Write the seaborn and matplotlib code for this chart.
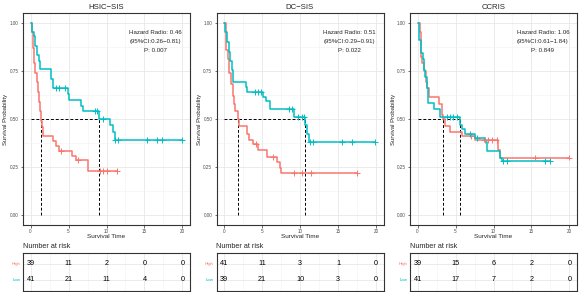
import numpy as np
import pandas as pd
import matplotlib
matplotlib.use("Agg")
import matplotlib.pyplot as plt
from matplotlib.ticker import MultipleLocator
import seaborn as sns

# ---------------- data ----------------
panel_titles = ["HSIC\u2212SIS", "DC\u2212SIS", "CCRIS"]
hr_text = ["Hazard Radio: 0.46", "Hazard Radio: 0.51", "Hazard Radio: 1.06"]
ci_text = ["(95%CI:0.26\u22120.81)", "(95%CI:0.29\u22120.91)", "(95%CI:0.61\u22121.84)"]
p_text = ["P: 0.007", "P: 0.022", "P: 0.849"]

# Kaplan-Meier step curves: (times, survival), last point = end of follow-up
hsic_high_t = [0, 0.15, 0.3, 0.45, 0.6, 0.8, 1.0, 1.1, 1.25, 1.35, 1.5, 1.7, 2.95, 3.4, 3.8, 5.5, 6.0, 7.6, 11.4]
hsic_high_s = [1.0, 0.95, 0.87, 0.79, 0.74, 0.69, 0.64, 0.59, 0.54, 0.49, 0.46, 0.41, 0.385, 0.36, 0.335, 0.31, 0.285, 0.23, 0.23]
hsic_low_t = [0, 0.15, 0.4, 0.6, 0.85, 1.1, 1.3, 2.7, 2.95, 4.9, 5.1, 6.7, 6.9, 9.0, 10.5, 10.8, 11.1, 19.9]
hsic_low_s = [1.0, 0.95, 0.93, 0.88, 0.83, 0.80, 0.76, 0.71, 0.66, 0.63, 0.60, 0.565, 0.54, 0.50, 0.47, 0.43, 0.39, 0.39]
hsic_high_cens = [4.0, 6.2, 9.1, 9.5, 10.1, 11.4]
hsic_low_cens = [3.4, 3.8, 4.5, 8.45, 8.8, 9.55, 11.15, 11.5, 15.4, 16.6, 17.3, 19.9]

dc_high_t = [0, 0.2, 0.3, 0.55, 0.65, 0.95, 1.2, 1.3, 1.5, 1.85, 1.95, 3.0, 3.3, 3.8, 4.5, 5.7, 7.0, 7.4, 7.5, 17.5]
dc_high_s = [1.0, 0.91, 0.86, 0.81, 0.74, 0.68, 0.62, 0.58, 0.54, 0.50, 0.465, 0.42, 0.39, 0.37, 0.34, 0.305, 0.275, 0.245, 0.22, 0.22]
dc_low_t = [0, 0.15, 0.4, 0.65, 0.8, 1.0, 1.2, 2.9, 3.05, 5.1, 5.5, 6.0, 6.1, 9.25, 10.65, 10.95, 11.15, 19.9]
dc_low_s = [1.0, 0.95, 0.90, 0.85, 0.80, 0.755, 0.69, 0.665, 0.64, 0.615, 0.595, 0.57, 0.55, 0.51, 0.47, 0.42, 0.38, 0.38]
dc_high_cens = [4.2, 6.4, 9.2, 10.2, 11.5, 17.5]
dc_low_cens = [4.05, 4.5, 4.9, 8.55, 8.9, 9.7, 10.3, 10.55, 11.3, 11.7, 15.5, 16.9, 19.9]

cc_high_t = [0, 0.3, 0.45, 0.6, 0.9, 1.1, 1.25, 1.45, 2.8, 3.2, 3.4, 3.6, 4.3, 5.9, 7.5, 10.65, 10.85, 20.0]
cc_high_s = [1.0, 0.95, 0.82, 0.79, 0.75, 0.69, 0.66, 0.615, 0.58, 0.52, 0.50, 0.465, 0.43, 0.41, 0.39, 0.34, 0.30, 0.30]
cc_low_t = [0, 0.15, 0.25, 0.5, 0.65, 0.8, 1.0, 1.2, 1.35, 2.1, 3.0, 5.55, 5.8, 6.2, 7.6, 8.9, 9.2, 10.9, 11.1, 17.5]
cc_low_s = [1.0, 0.96, 0.91, 0.84, 0.81, 0.755, 0.72, 0.66, 0.585, 0.55, 0.51, 0.47, 0.45, 0.42, 0.40, 0.38, 0.335, 0.30, 0.28, 0.28]
cc_high_cens = [7.1, 8.9, 9.3, 9.8, 10.4, 15.5, 20.0]
cc_low_cens = [3.85, 4.3, 4.7, 5.2, 6.9, 7.8, 11.3, 11.75, 16.8, 17.5]

risk_times = [0, 5, 10, 15, 20]
hsic_high_risk = [39, 11, 2, 0, 0]
hsic_low_risk = [41, 21, 11, 4, 0]
dc_high_risk = [41, 11, 3, 1, 0]
dc_low_risk = [39, 21, 10, 3, 0]
cc_high_risk = [39, 15, 6, 2, 0]
cc_low_risk = [41, 17, 7, 2, 0]

groups = ["High", "Low"]
palette = {"High": "#F8766D", "Low": "#00BFC4"}

panels = [
    dict(high=(hsic_high_t, hsic_high_s, hsic_high_cens), low=(hsic_low_t, hsic_low_s, hsic_low_cens),
         risk=(hsic_high_risk, hsic_low_risk)),
    dict(high=(dc_high_t, dc_high_s, dc_high_cens), low=(dc_low_t, dc_low_s, dc_low_cens),
         risk=(dc_high_risk, dc_low_risk)),
    dict(high=(cc_high_t, cc_high_s, cc_high_cens), low=(cc_low_t, cc_low_s, cc_low_cens),
         risk=(cc_high_risk, cc_low_risk)),
]

# ---------------- styling ----------------
sns.set_theme(style="white")
plt.rcParams["font.family"] = ["Liberation Sans", "DejaVu Sans"]
W, H = 581, 292
fig = plt.figure(figsize=(W / 100, H / 100), dpi=100)
fig.patch.set_facecolor("white")

edge = "#333333"
lefts = [23, 216.5, 410]
aw = 167


def step_eval(t, s, x):
    t = np.asarray(t)
    s = np.asarray(s)
    idx = np.searchsorted(t, x, side="right") - 1
    return s[idx]


def style_frame(ax):
    for sp in ax.spines.values():
        sp.set_visible(True)
        sp.set_color(edge)
        sp.set_linewidth(0.8)


for i, p in enumerate(panels):
    L = lefts[i]
    ax = fig.add_axes([L / W, 1 - 225 / H, aw / W, 212 / H])
    ax.set_facecolor("white")

    rows = []
    cens_rows = []
    medians = []
    for g, key in zip(groups, ["high", "low"]):
        t, s, c = p[key]
        for tt, ss in zip(t, s):
            rows.append(dict(time=tt, surv=ss, group=g))
        cs = step_eval(t, s, c)
        for tt, ss in zip(c, cs):
            cens_rows.append(dict(time=tt, surv=ss, group=g))
        sarr = np.asarray(s)
        medians.append(np.asarray(t)[np.argmax(sarr <= 0.5)])
    df = pd.DataFrame(rows)
    dfc = pd.DataFrame(cens_rows)

    # grid
    ax.xaxis.set_major_locator(MultipleLocator(5))
    ax.xaxis.set_minor_locator(MultipleLocator(2.5))
    ax.yaxis.set_major_locator(MultipleLocator(0.25))
    ax.yaxis.set_minor_locator(MultipleLocator(0.125))
    ax.grid(True, which="major", color="#E8E8E8", lw=0.6)
    ax.grid(True, which="minor", color="#F2F2F2", lw=0.4)
    ax.set_axisbelow(True)

    # median lines
    ax.plot([0, max(medians)], [0.5, 0.5], ls=(0, (3, 2)), color="black", lw=0.7, zorder=3)
    for m in medians:
        ax.plot([m, m], [0, 0.5], ls=(0, (3, 2)), color="black", lw=0.7, zorder=3)

    sns.lineplot(data=df, x="time", y="surv", hue="group", palette=palette,
                 drawstyle="steps-post", estimator=None, sort=False, legend=False,
                 lw=1.1, ax=ax, zorder=4)
    sns.scatterplot(data=dfc, x="time", y="surv", hue="group", palette=palette,
                    marker="+", s=18, linewidth=0.7, legend=False, ax=ax, zorder=5)

    ax.set_xlim(-1, 21)
    ax.set_ylim(-0.05, 1.05)
    ax.set_xticks(risk_times)
    ax.set_yticks([0, 0.25, 0.5, 0.75, 1.0])
    ax.set_yticklabels(["0.00", "0.25", "0.50", "0.75", "1.00"])
    ax.tick_params(axis="both", which="major", labelsize=3.3, length=1.8, width=0.5,
                   color=edge, pad=1.2, labelcolor="#4D4D4D", bottom=True, left=True)
    ax.tick_params(which="minor", length=0)
    ax.set_xlabel("Survival Time", fontsize=4.6, va="center")
    ax.xaxis.set_label_coords(0.5, (225 - 237) / 212)
    ax.set_ylabel("Survival Probability", fontsize=4.3, va="center")
    ax.yaxis.set_label_coords(-17 / aw, 0.5)
    ax.set_title(panel_titles[i], fontsize=5.6, pad=3)
    style_frame(ax)

    ax.text(16.5, 0.95, hr_text[i], fontsize=4.4, ha="center", va="center")
    ax.text(16.5, 0.90, ci_text[i], fontsize=4.4, ha="center", va="center")
    ax.text(16.5, 0.853, p_text[i], fontsize=4.4, ha="center", va="center")

    # ---------------- risk table ----------------
    rt = fig.add_axes([L / W, 1 - 291 / H, aw / W, 38.3 / H])
    rt.set_facecolor("white")
    risk_rows = []
    for g, vals, ypos in zip(groups, p["risk"], [2, 1]):
        for tt, v in zip(risk_times, vals):
            risk_rows.append(dict(time=tt, row=ypos, n=v, group=g))
    rdf = pd.DataFrame(risk_rows)
    rt.set_xlim(-1, 21)
    rt.set_ylim(0.3, 2.7)
    rt.xaxis.set_major_locator(MultipleLocator(5))
    rt.xaxis.set_minor_locator(MultipleLocator(2.5))
    rt.grid(True, which="major", axis="x", color="#E8E8E8", lw=0.6)
    rt.grid(True, which="minor", axis="x", color="#F2F2F2", lw=0.4)
    rt.grid(True, which="major", axis="y", color="#E8E8E8", lw=0.6)
    rt.set_axisbelow(True)
    for _, r in rdf.iterrows():
        rt.text(r["time"], r["row"], str(r["n"]), fontsize=5.2, ha="center", va="center", color="black")
    rt.set_yticks([2, 1])
    rt.set_yticklabels(groups)
    for lab, g in zip(rt.get_yticklabels(), groups):
        lab.set_color(palette[g])
    rt.tick_params(axis="y", labelsize=3.2, length=0, pad=2)
    rt.tick_params(axis="x", labelbottom=False, length=0)
    rt.set_xlabel("")
    rt.set_ylabel("")
    style_frame(rt)
    rt.text(0, (291 - 246) / 38.3, "Number at risk", transform=rt.transAxes,
            fontsize=5.2, ha="left", va="center")

fig.savefig("out.png", dpi=100, facecolor="white")
